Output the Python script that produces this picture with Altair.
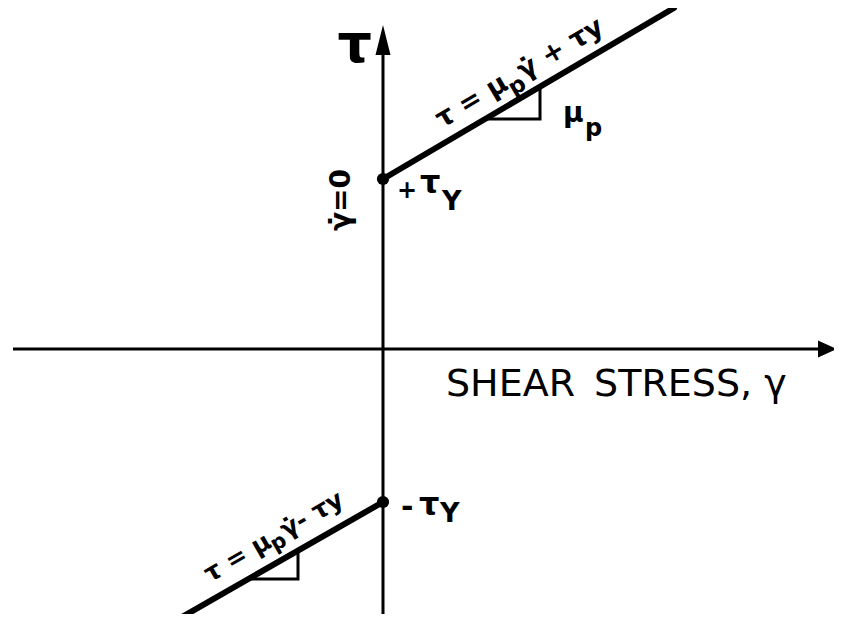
import altair as alt
import pandas as pd

# ---------------- data (x = shear rate, y = stress; units) -------------
X_DOMAIN = [-3.75, 4.51]
Y_DOMAIN = [-2.65, 3.41]

# coordinate axes (start / end)
axis_x1 = [-3.70, 0.0]
axis_x2 = [4.36, 0.0]
axis_y1 = [0.0, -2.72]
axis_y2 = [0.0, 2.98]

# arrowheads
arrow_r_x, arrow_r_y = [4.445], [0.0]
arrow_u_x, arrow_u_y = [0.0], [3.09]

# yield points
tau_y_pos = 1.70
tau_y_neg = -1.53
dot_x = [0.0, 0.0]
dot_y = [tau_y_pos, tau_y_neg]

# Bingham branches  tau = mu_p * gamma_dot +/- tau_y
upper_x = [0.0, 2.91]
upper_y = [1.70, 3.41]
lower_x = [-2.01, 0.0]
lower_y = [-2.68, -1.53]

# slope triangles
tri_up_x = [1.02, 1.57, 1.57]
tri_up_y = [2.30, 2.30, 2.62]
tri_lo_x = [-1.35, -0.85, -0.85]
tri_lo_y = [-2.30, -2.30, -2.02]

# plain labels
lab_text = ["τ", "γ̇=0", "+", "τ", "Y", "-", "τ", "Y", "μ", "p", "SHEAR\u2002STRESS, γ"]
lab_x = [-0.11, -0.41, 0.14, 0.37, 0.59, 0.18, 0.36, 0.57, 1.80, 2.02, 0.63]
lab_y = [2.87, 1.49, 1.51, 1.56, 1.39, -1.68, -1.66, -1.73, 2.27, 2.13, -0.47]

# formulas written along the branches (anchor point on each branch)
upper_formula = ["τ = μ", "p", "γ̇ + τy"]
upper_anchor_x, upper_anchor_y = [0.66], [2.088]
lower_formula = ["τ = μ", "p", "γ̇- τy"]
lower_anchor_x, lower_anchor_y = [-1.65], [-2.474]

# ---------------- chart -------------
FONT = "DejaVu Sans"
xs = alt.Scale(domain=X_DOMAIN, nice=False, zero=False)
ys = alt.Scale(domain=Y_DOMAIN, nice=False, zero=False)


def X(f="x"):
    return alt.X(f"{f}:Q", scale=xs, axis=None)


def Y(f="y"):
    return alt.Y(f"{f}:Q", scale=ys, axis=None)


axes = alt.Chart(pd.DataFrame({"x": axis_x1, "x2": axis_x2, "y": axis_y1, "y2": axis_y2})).mark_rule(
    color="black", strokeWidth=3
).encode(x=X(), x2=alt.X2("x2:Q"), y=Y(), y2=alt.Y2("y2:Q"))

arrow_r = alt.Chart(pd.DataFrame({"x": arrow_r_x, "y": arrow_r_y})).mark_point(
    shape="M1,0 L-1,-0.9 L-1,0.9 Z", filled=True, size=361, color="black", opacity=1, strokeWidth=0
).encode(x=X(), y=Y())

arrow_u = alt.Chart(pd.DataFrame({"x": arrow_u_x, "y": arrow_u_y})).mark_point(
    shape="M0,-1 L0.5,1 L-0.5,1 Z", filled=True, size=900, color="black", opacity=1, strokeWidth=0
).encode(x=X(), y=Y())


def seg_frame(xlists, ylists):
    rows = []
    for s, (xl, yl) in enumerate(zip(xlists, ylists)):
        for o, (a, b) in enumerate(zip(xl, yl)):
            rows.append({"x": a, "y": b, "seg": s, "ord": o})
    return pd.DataFrame(rows)


branches = alt.Chart(seg_frame([upper_x, lower_x], [upper_y, lower_y])).mark_line(
    color="black", strokeWidth=6, strokeCap="round"
).encode(x=X(), y=Y(), detail="seg:N", order="ord:Q")

triangles = alt.Chart(seg_frame([tri_up_x, tri_lo_x], [tri_up_y, tri_lo_y])).mark_line(
    color="black", strokeWidth=3
).encode(x=X(), y=Y(), detail="seg:N", order="ord:Q")

dots = alt.Chart(pd.DataFrame({"x": dot_x, "y": dot_y})).mark_circle(
    size=150, color="black", opacity=1
).encode(x=X(), y=Y())


def text_layer(i, size, weight="bold", align="left", baseline="alphabetic", angle=None):
    d = pd.DataFrame({"x": [lab_x[i]], "y": [lab_y[i]], "t": [lab_text[i]]})
    kw = dict(font=FONT, fontSize=size, fontWeight=weight, align=align,
              baseline=baseline, color="black")
    if angle is not None:
        kw["angle"] = angle
    return alt.Chart(d).mark_text(**kw).encode(x=X(), y=Y(), text="t:N")


texts = [
    text_layer(0, 54, align="right"),
    text_layer(1, 28, align="center", baseline="middle", angle=270),
    text_layer(2, 24),
    text_layer(3, 32),
    text_layer(4, 27),
    text_layer(5, 30),
    text_layer(6, 32),
    text_layer(7, 27),
    text_layer(8, 28),
    text_layer(9, 24),
    text_layer(10, 38, weight="normal"),
]

# layout of the formula pieces along the rotated baseline (offset along, offset across, size)
UPPER_STYLE = [(0, -14, 27), (78, -5, 23), (95, -14, 27)]
LOWER_STYLE = [(0, -16, 25), (72, -10, 21), (88, -16, 25)]


def formula_layers(pieces, ax, ay, style, angle):
    out = []
    for txt, (dx, dy, size) in zip(pieces, style):
        d = pd.DataFrame({"x": ax, "y": ay, "t": [txt]})
        out.append(alt.Chart(d).mark_text(
            font=FONT, fontSize=size, fontWeight="bold", align="left", baseline="alphabetic",
            angle=angle, dx=dx, dy=dy, color="black"
        ).encode(x=X(), y=Y(), text="t:N"))
    return out


formulas = (formula_layers(upper_formula, upper_anchor_x, upper_anchor_y, UPPER_STYLE, 329.5)
            + formula_layers(lower_formula, lower_anchor_x, lower_anchor_y, LOWER_STYLE, 330))

chart = alt.layer(axes, arrow_r, arrow_u, branches, triangles, dots, *texts, *formulas).properties(
    width=826, height=606, padding=0, background="white",
    autosize=alt.AutoSizeParams(type="none"),
).configure_view(stroke=None)

chart.save("out.html", embed_options={"renderer": "svg", "actions": False})
